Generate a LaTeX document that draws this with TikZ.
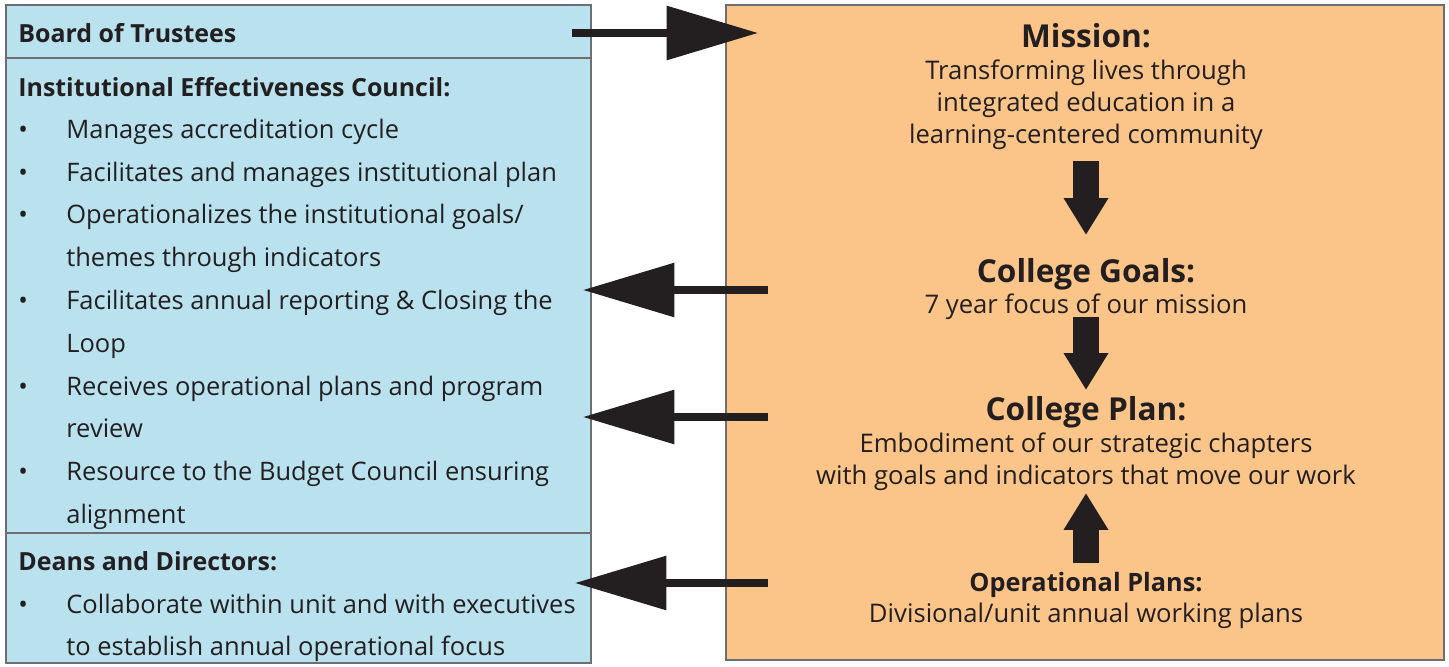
\documentclass[tikz,border=0pt]{standalone}
\usepackage{fontspec}
\setmainfont{Open Sans}
\usetikzlibrary{arrows.meta,positioning}
\definecolor{panelblue}{HTML}{B9E2EE}
\definecolor{panelorange}{HTML}{FBC58A}
\definecolor{ink}{HTML}{231F20}
\definecolor{rule}{HTML}{6D6E71}
\tikzset{
  panel/.style={draw=rule, line width=0.8pt},
  lefttext/.style={anchor=base west, inner sep=0pt, text=ink, font=\fontsize{14.5}{18}\selectfont},
  lefthead/.style={lefttext, font=\fontsize{14.2}{18}\selectfont\bfseries},
  bodytext/.style={anchor=base, inner sep=0pt, text=ink, font=\fontsize{14.6}{18}\selectfont},
  bighead/.style={bodytext, font=\fontsize{18}{20}\selectfont\bfseries},
  smallhead/.style={bodytext, font=\fontsize{14.4}{18}\selectfont\bfseries},
  sidearrow/.style={draw=ink, line width=4pt, -{Triangle[length=52pt, width=30pt]}},
  blockarrow/.style={draw=ink, line width=14.7pt, -{Triangle[length=21pt, width=24pt]}}
}
\begin{document}
\begin{tikzpicture}[x=0.02cm, y=-0.02cm]
    \useasboundingbox (0,0) rectangle (1449,666);
    %Panels
    \draw[panel, fill=panelblue] (6,5) rectangle (591,58);
    \draw[panel, fill=panelblue] (6,58) rectangle (591,533);
    \draw[panel, fill=panelblue] (6,533) rectangle (591,663);
    \draw[panel, fill=panelorange] (726,5) rectangle (1444,660);

    %Left column
    \node[lefthead] (board) at (18,42) {Board of Trustees};
    \node[lefthead] (iec) at (18,96) {Institutional Effectiveness Council:};
    \node[lefthead] (deans) at (18,570) {Deans and Directors:};
    \foreach \y/\t [count=\i] in {138/Manages accreditation cycle,
        181/Facilitates and manages institutional plan,
        223/Operationalizes the institutional goals\slash,
        266/themes through indicators,
        309/Facilitates annual reporting \& Closing the,
        352/Loop,
        395/Receives operational plans and program,
        437/review,
        480/Resource to the Budget Council ensuring,
        523/alignment,
        613/Collaborate within unit and with executives,
        655/to establish annual operational focus}{
        \node[lefttext] (line\i) at (66,\y) {\t};
    };
    \foreach \y [count=\i] in {138,181,223,309,395,480,613}{
        \node[lefttext] (dot\i) at (18,\y) {\textbullet};
    };

    %Right column
    \node[bighead] (mission) at (1086,47) {Mission:};
    \node[bodytext, align=center] (missiontext) at (1086,143) {Transforming lives through\\ integrated education in a\\ learning-centered community};
    \node[bighead] (goals) at (1086,282) {College Goals:};
    \node[bodytext] (goalstext) at (1086,313) {7 year focus of our mission};
    \node[bighead] (plan) at (1086,420) {College Plan:};
    \node[bodytext, align=center] (plantext) at (1086,484) {Embodiment of our strategic chapters\\ with goals and indicators that move our work};
    \node[smallhead] (ops) at (1086,591) {Operational Plans:};
    \node[bodytext] (opstext) at (1086,622) {Divisional/unit annual working plans};

    %Arrows
    \coordinate (boardout) at (572,33);
    \coordinate (missionin) at (758,33);
    \coordinate (goalsout) at (768,290);
    \coordinate (iecin1) at (583,290);
    \coordinate (planout) at (768,417);
    \coordinate (iecin2) at (583,417);
    \coordinate (opsout) at (768,583);
    \coordinate (deansin) at (575,583);
    \draw[sidearrow] (boardout) -- (missionin);
    \draw[sidearrow] (goalsout) -- (iecin1);
    \draw[sidearrow] (planout) -- (iecin2);
    \draw[sidearrow] (opsout) -- (deansin);

    \coordinate (m1) at (1086,161);
    \coordinate (m2) at (1086,235);
    \coordinate (g1) at (1086,317);
    \coordinate (g2) at (1086,390);
    \coordinate (o1) at (1086,563);
    \coordinate (o2) at (1086,493);
    \draw[blockarrow] (m1) -- (m2);
    \draw[blockarrow] (g1) -- (g2);
    \draw[blockarrow] (o1) -- (o2);
\end{tikzpicture}
\end{document}
